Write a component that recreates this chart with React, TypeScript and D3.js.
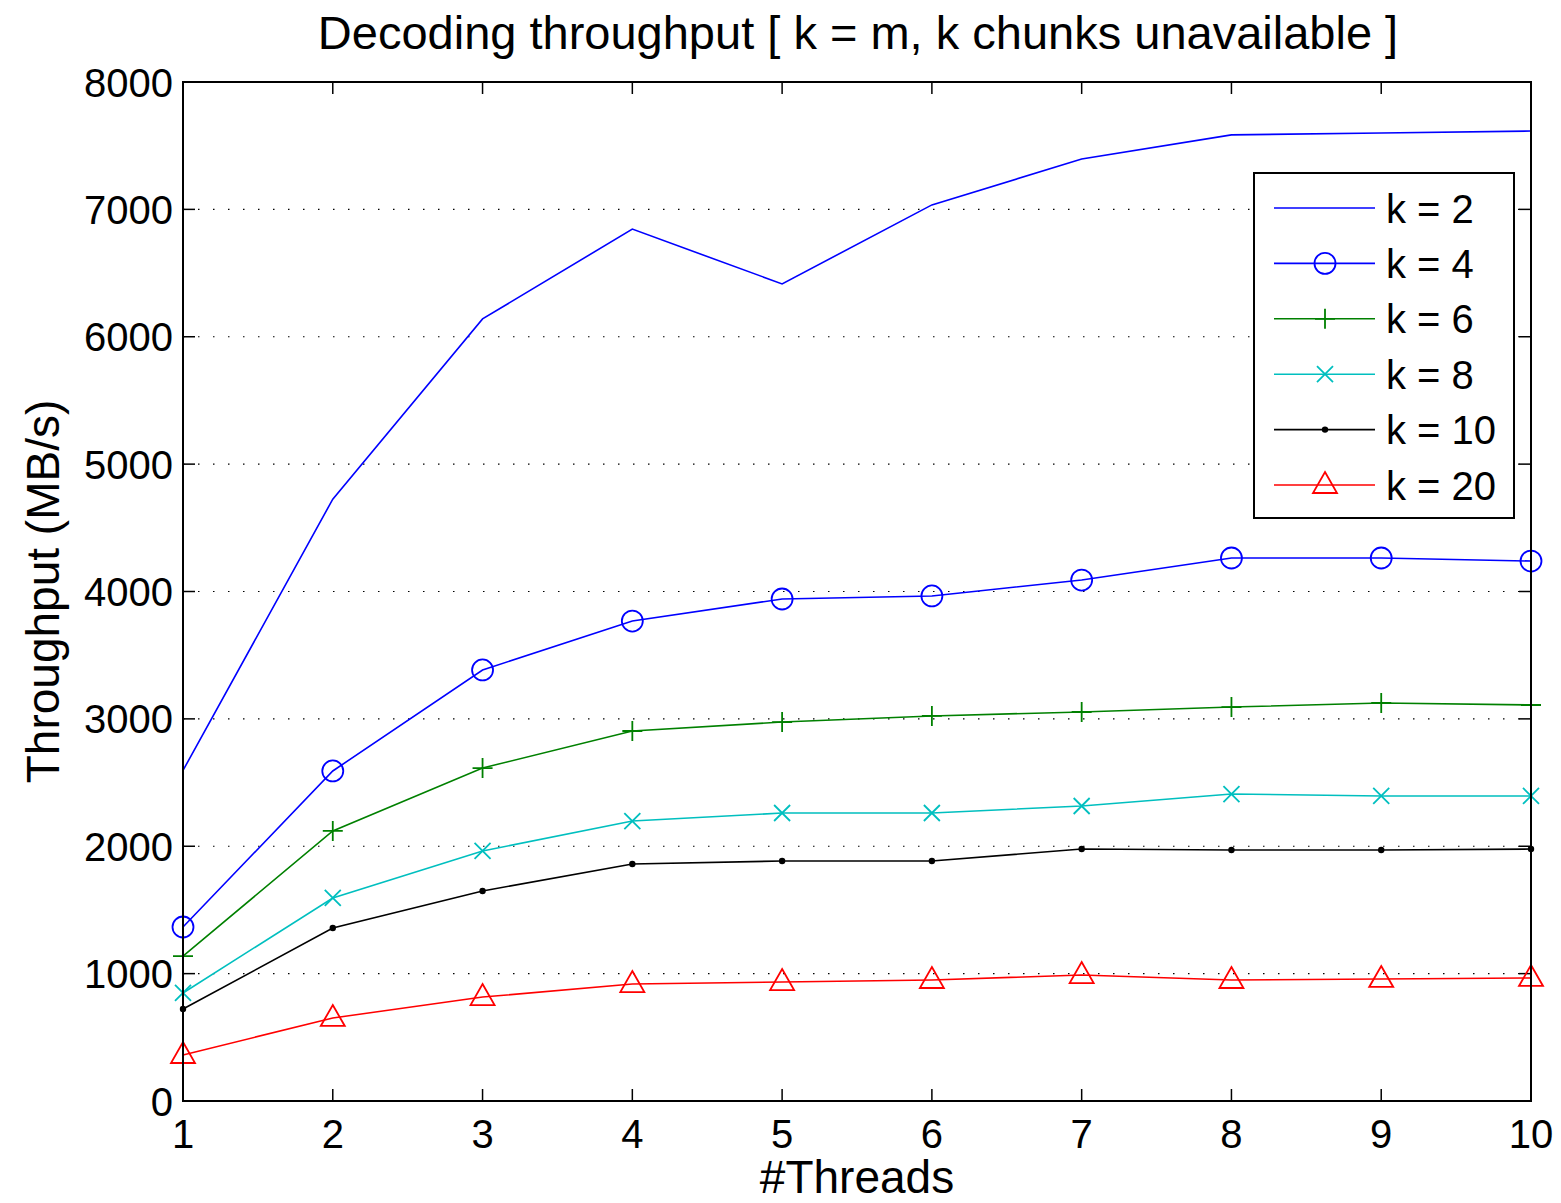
import React from "react";
import * as d3 from "d3";

const threads = [1, 2, 3, 4, 5, 6, 7, 8, 9, 10];
const k2 = [2595, 4725, 6140, 6845, 6415, 7035, 7395, 7585, 7600, 7615];
const k4 = [1366, 2591, 3384, 3768, 3941, 3965, 4090, 4263, 4263, 4239];
const k6 = [1138, 2120, 2614, 2905, 2975, 3023, 3054, 3093, 3125, 3109];
const k8 = [848, 1594, 1963, 2198, 2261, 2261, 2316, 2410, 2395, 2395];
const k10 = [722, 1358, 1649, 1861, 1884, 1884, 1978, 1970, 1970, 1978];
const k20 = [361, 652, 816, 918, 934, 950, 989, 950, 958, 966];
const yTicks = [0, 1000, 2000, 3000, 4000, 5000, 6000, 7000, 8000];

type Marker = "none" | "circle" | "plus" | "x" | "dot" | "triangle";
const series: { label: string; values: number[]; color: string; marker: Marker }[] = [
  { label: "k = 2", values: k2, color: "#0000ff", marker: "none" },
  { label: "k = 4", values: k4, color: "#0000ff", marker: "circle" },
  { label: "k = 6", values: k6, color: "#008000", marker: "plus" },
  { label: "k = 8", values: k8, color: "#00bfbf", marker: "x" },
  { label: "k = 10", values: k10, color: "#000000", marker: "dot" },
  { label: "k = 20", values: k20, color: "#ff0000", marker: "triangle" },
];

const FONT = "'Liberation Sans', Arial, Helvetica, sans-serif";

function MarkerShape({ m, x, y, color }: { m: Marker; x: number; y: number; color: string }) {
  const sw = 1.8;
  switch (m) {
    case "circle":
      return <circle cx={x} cy={y} r={10.5} fill="none" stroke={color} strokeWidth={sw} />;
    case "plus":
      return (
        <path d={`M${x - 10},${y}H${x + 10}M${x},${y - 10}V${y + 10}`} stroke={color} strokeWidth={sw} fill="none" />
      );
    case "x":
      return (
        <path
          d={`M${x - 8},${y - 8}L${x + 8},${y + 8}M${x - 8},${y + 8}L${x + 8},${y - 8}`}
          stroke={color}
          strokeWidth={sw}
          fill="none"
        />
      );
    case "dot":
      return <circle cx={x} cy={y} r={3.2} fill={color} />;
    case "triangle":
      return (
        <path
          d={`M${x},${y - 13}L${x + 12},${y + 8}L${x - 12},${y + 8}Z`}
          stroke={color}
          strokeWidth={sw}
          fill="none"
        />
      );
    default:
      return null;
  }
}

export default function App() {
  const W = 1561, H = 1203;
  const L = 183, R = 1531, T = 82, B = 1101;
  const x = d3.scaleLinear().domain([1, 10]).range([L, R]);
  const y = d3.scaleLinear().domain([0, 8000]).range([B, T]);
  const line = d3
    .line<number>()
    .x((_, i) => x(threads[i]))
    .y((d) => y(d));

  const legX = 1254, legY = 173, legW = 260, legH = 345;
  const legRow0 = 208, legStep = 55.4;

  return (
    <svg width={W} height={H} style={{ position: "absolute", left: 0, top: 0, background: "#fff" }}>
      <rect x={0} y={0} width={W} height={H} fill="#fff" />
      {/* grid */}
      {yTicks.slice(1, -1).map((t) => (
        <line
          key={"g" + t}
          x1={L}
          x2={R}
          y1={y(t)}
          y2={y(t)}
          stroke="#000"
          strokeWidth={1.2}
          strokeDasharray="1.5,13.5"
        />
      ))}
      {/* ticks */}
      {yTicks.map((t) => (
        <g key={"yt" + t}>
          <line x1={L} x2={L + 12} y1={y(t)} y2={y(t)} stroke="#000" strokeWidth={1.5} />
          <line x1={R} x2={R - 12} y1={y(t)} y2={y(t)} stroke="#000" strokeWidth={1.5} />
          <text x={L - 10} y={y(t) + 14.5} textAnchor="end" fontFamily={FONT} fontSize={40} fill="#000">
            {t}
          </text>
        </g>
      ))}
      {threads.map((t) => (
        <g key={"xt" + t}>
          <line x1={x(t)} x2={x(t)} y1={B} y2={B - 12} stroke="#000" strokeWidth={1.5} />
          <line x1={x(t)} x2={x(t)} y1={T} y2={T + 12} stroke="#000" strokeWidth={1.5} />
          <text x={x(t)} y={B + 47} textAnchor="middle" fontFamily={FONT} fontSize={40} fill="#000">
            {t}
          </text>
        </g>
      ))}
      {/* series */}
      {series.map((s) => (
        <g key={s.label}>
          <path d={line(s.values) || ""} fill="none" stroke={s.color} strokeWidth={1.6} />
          {s.values.map((v, i) => (
            <MarkerShape key={i} m={s.marker} x={x(threads[i])} y={y(v)} color={s.color} />
          ))}
        </g>
      ))}
      {/* axes box */}
      <rect x={L} y={T} width={R - L} height={B - T} fill="none" stroke="#000" strokeWidth={2} />
      {/* legend */}
      <rect x={legX} y={legY} width={legW} height={legH} fill="#fff" stroke="#000" strokeWidth={2} />
      {series.map((s, i) => {
        const ly = legRow0 + i * legStep;
        return (
          <g key={"leg" + s.label}>
            <line x1={1274} x2={1375} y1={ly} y2={ly} stroke={s.color} strokeWidth={1.6} />
            <MarkerShape m={s.marker} x={1325} y={ly} color={s.color} />
            <text x={1386} y={ly + 14.5} fontFamily={FONT} fontSize={40} fill="#000">
              {s.label}
            </text>
          </g>
        );
      })}
      {/* titles */}
      <text x={858} y={49} textAnchor="middle" fontFamily={FONT} fontSize={47} fill="#000">
        Decoding throughput [ k = m, k chunks unavailable ]
      </text>
      <text x={857} y={1193} textAnchor="middle" fontFamily={FONT} fontSize={46} fill="#000">
        #Threads
      </text>
      <text
        transform={`translate(59,${(T + B) / 2}) rotate(-90)`}
        textAnchor="middle"
        fontFamily={FONT}
        fontSize={46}
        fill="#000"
      >
        Throughput (MB/s)
      </text>
    </svg>
  );
}
